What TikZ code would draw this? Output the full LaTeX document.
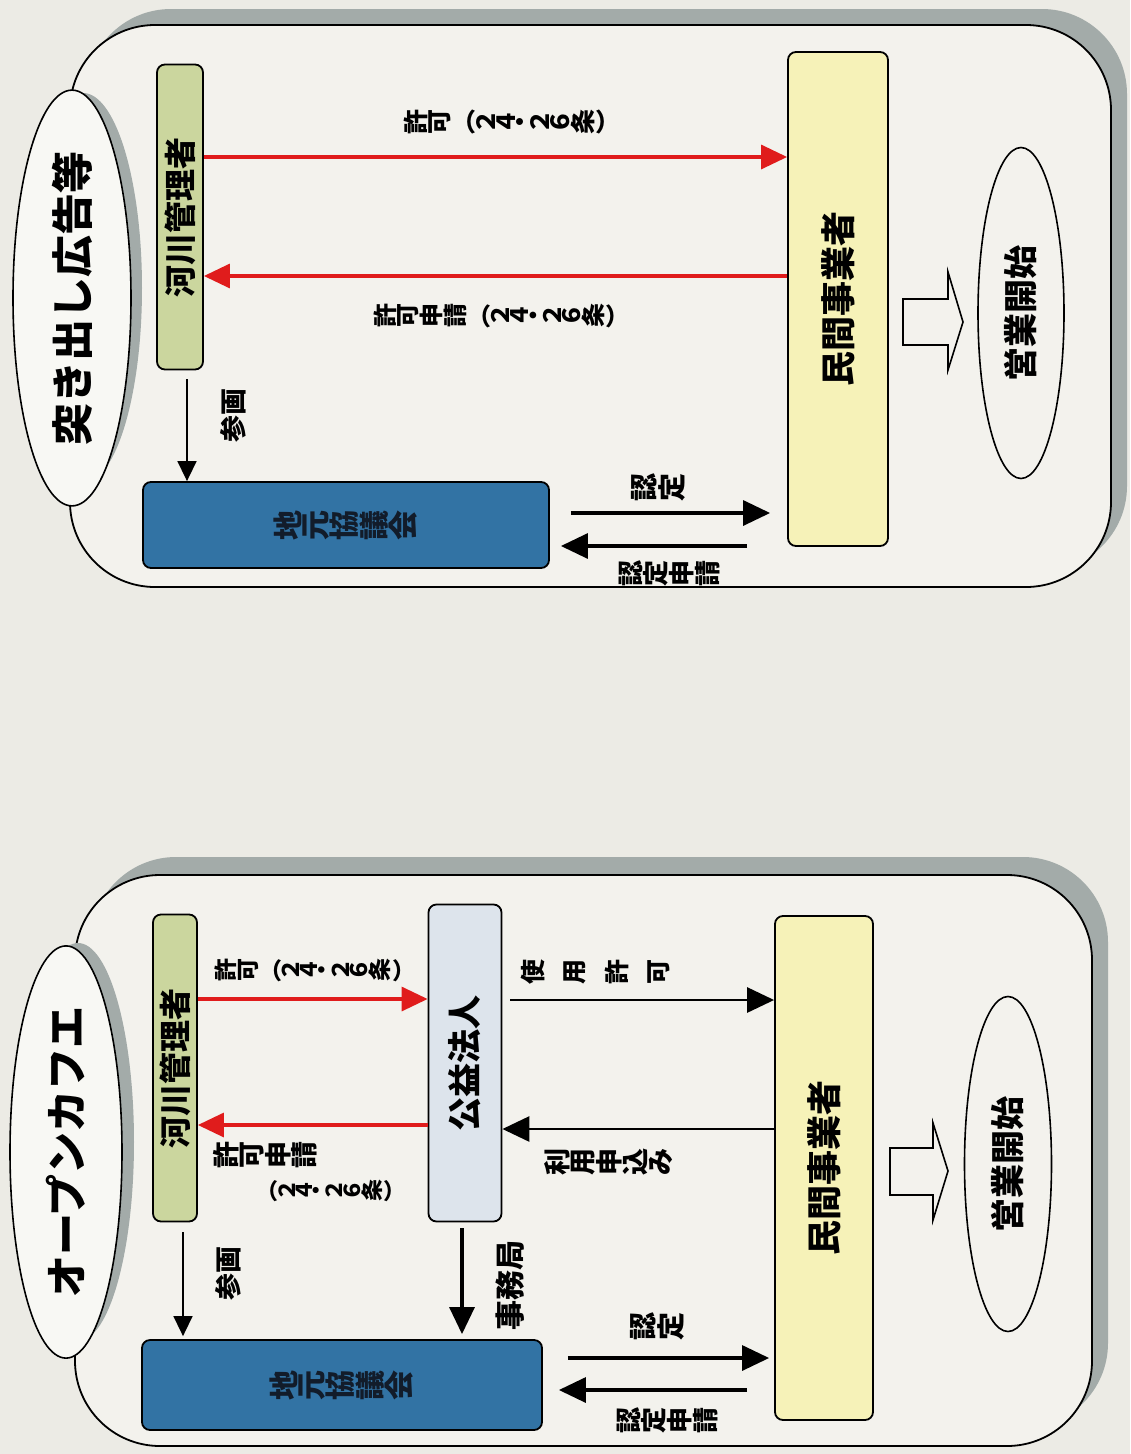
\documentclass[tikz,border=0pt]{standalone}
\usepackage{fontspec}
\usepackage{graphicx}
\setmainfont{Noto Sans CJK JP}
\usetikzlibrary{shapes.geometric,arrows.meta}
\makeatletter
\newcommand\vt[1]{\vt@loop#1\vt@nil}
\def\vt@nil{\vt@nil}
\def\vt@loop#1{\ifx#1\vt@nil\else\rotatebox{90}{#1}\kern1pt\expandafter\vt@loop\fi}
\makeatother
\newcommand\lp{\raisebox{.1em}{（}}
\newcommand\rp{\raisebox{.1em}{）}}
\newcommand\fs[1]{\bfseries\fontsize{#1}{#1}\selectfont}
\definecolor{bgc}{RGB}{236,235,229}
\definecolor{panelc}{RGB}{243,242,237}
\definecolor{shadowc}{RGB}{163,171,169}
\definecolor{ellc}{RGB}{248,248,244}
\definecolor{greenc}{RGB}{203,214,158}
\definecolor{bluec}{RGB}{50,115,164}
\definecolor{yellowc}{RGB}{246,242,184}
\definecolor{kgc}{RGB}{221,228,236}
\definecolor{redc}{RGB}{224,28,28}
\definecolor{navy}{RGB}{18,28,42}
\tikzset{
  panel/.style={draw=black,line width=1.8pt,fill=panelc,rounded corners=85pt},
  pshadow/.style={fill=shadowc,rounded corners=85pt},
  titleell/.style={ellipse,draw=black,line width=1.6pt,fill=ellc,inner sep=0pt,font=\fs{42}},
  goalell/.style={ellipse,draw=black,line width=1.6pt,fill=panelc,inner sep=0pt,font=\fs{34}},
  bx/.style={draw=black,line width=1.8pt,rounded corners=8pt,inner sep=0pt},
  redarr/.style={draw=redc,line width=3.2pt,-{Triangle[length=26pt,width=24pt]}},
  blkarr/.style={draw=black,line width=3.2pt,-{Triangle[length=27pt,width=25pt]}},
  thinarr/.style={draw=black,line width=1.5pt,-{Triangle[length=20pt,width=19pt]}},
  blockarr/.style={draw=black,line width=1.6pt,fill=panelc,line join=miter},
  lbl/.style={inner sep=0pt,text=black}
}
\begin{document}
\begin{tikzpicture}[x=1pt,y=-1pt]
\useasboundingbox (0,0) rectangle (1130,1454);
\fill[bgc] (0,0) rectangle (1130,1454);

% ================= top panel =================
\fill[pshadow] (86,9) rectangle (1127,571);
\draw[panel] (70,25) rectangle (1111,587);
\fill[shadowc] (83,288) ellipse [x radius=59, y radius=195];
\node[titleell,minimum width=118,minimum height=390] (t1) at (72,298) {\rotatebox{90}{突き出し広告等}};

\node[bx,fill=greenc,minimum width=46,minimum height=305,font=\fs{32}] (k1) at (180,217) {\rotatebox{90}{河川管理者}};
\node[bx,fill=bluec,minimum width=406,minimum height=86,font=\fs{30},text=navy] (c1) at (346,525) {\vt{地元協議会}};
\node[bx,fill=yellowc,minimum width=100,minimum height=494,font=\fs{35}] (m1) at (838,299) {\rotatebox{90}{民間事業者}};
\node[goalell,minimum width=86,minimum height=331] (e1) at (1021,313) {\rotatebox{90}{営業開始}};
\draw[blockarr] (903,299) -- (948,299) -- (948,272) -- (963,322) -- (948,370) -- (948,345) -- (903,345) -- cycle;

\draw[redarr] (k1.east |- 0,157) -- (m1.west |- 0,157);
\draw[redarr] (m1.west |- 0,276) -- (k1.east |- 0,276);
\draw[thinarr,shorten <=9pt] ([xshift=7pt]k1.south) -- ([xshift=7pt]k1.south |- c1.north);
\draw[blkarr,shorten <=21pt,shorten >=17pt] (c1.east |- 0,513) -- (m1.west |- 0,513);
\draw[blkarr,shorten <=40pt,shorten >=11pt] (m1.west |- 0,546) -- (c1.east |- 0,546);

\node[lbl,font=\fs{25}] (l1) at (512,122) {\vt{許可}\lp\vt{２４・２６条}\rp};
\node[lbl,font=\fs{24}] (l2) at (502,316) {\vt{許可申請}\lp\vt{２４・２６条}\rp};
\node[lbl,font=\fs{27},rotate=90] (l3) at (233,415) {参画};
\node[lbl,font=\fs{28}] (l4) at (659,487) {\vt{認定}};
\node[lbl,font=\fs{26}] (l5) at (670,573) {\vt{認定申請}};

% ================= bottom panel =================
\fill[pshadow] (91,857) rectangle (1108,1428);
\draw[panel] (75,875) rectangle (1092,1446);
\fill[shadowc] (78,1142) ellipse [x radius=56, y radius=199];
\node[titleell,minimum width=112,minimum height=398] (t2) at (66,1152) {\rotatebox{90}{オープンカフエ}};

\node[bx,fill=greenc,minimum width=44,minimum height=307,font=\fs{32}] (k2) at (175,1068) {\rotatebox{90}{河川管理者}};
\node[bx,fill=kgc,minimum width=73,minimum height=317,font=\fs{34}] (kh) at (465,1063) {\rotatebox{90}{公益法人}};
\node[bx,fill=bluec,minimum width=400,minimum height=90,font=\fs{30},text=navy] (c2) at (342,1385) {\vt{地元協議会}};
\node[bx,fill=yellowc,minimum width=98,minimum height=504,font=\fs{35}] (m2) at (824,1168) {\rotatebox{90}{民間事業者}};
\node[goalell,minimum width=87,minimum height=335] (e2) at (1008,1164) {\rotatebox{90}{営業開始}};
\draw[blockarr] (890,1148) -- (933,1148) -- (933,1123) -- (948,1171) -- (933,1220) -- (933,1195) -- (890,1195) -- cycle;

\draw[redarr] (k2.east |- 0,999) -- (kh.west |- 0,999);
\draw[redarr] (kh.west |- 0,1125) -- (k2.east |- 0,1125);
\draw[blkarr,line width=2.8pt,shorten <=8pt] (kh.east |- 0,1000) -- (m2.west |- 0,1000);
\draw[blkarr,line width=2.8pt] (m2.west |- 0,1129) -- (kh.east |- 0,1129);
\draw[thinarr,shorten <=10pt,shorten >=3pt] ([xshift=8pt]k2.south) -- ([xshift=8pt]k2.south |- c2.north);
\draw[blkarr,shorten <=6pt,shorten >=5pt] ([xshift=-3pt]kh.south) -- ([xshift=-3pt]kh.south |- c2.north);
\draw[blkarr,shorten <=25pt,shorten >=5pt] (c2.east |- 0,1358) -- (m2.west |- 0,1358);
\draw[blkarr,shorten <=27pt,shorten >=16pt] (m2.west |- 0,1390) -- (c2.east |- 0,1390);

\node[lbl,font=\fs{23}] (b1) at (315,970) {\vt{許可}\lp\vt{２４・２６条}\rp};
\node[lbl,font=\fs{27}] (b2) at (266,1155) {\vt{許可申請}};
\node[lbl,font=\fs{22}] (b3) at (331,1191) {\lp\vt{２４・２６条}\rp};
\node[lbl,font=\fs{25}] (b4) at (596,972) {\vt{使}\hspace{18pt}\vt{用}\hspace{18pt}\vt{許}\hspace{18pt}\vt{可}};
\node[lbl,font=\fs{27}] (b5) at (609,1162) {\vt{利用申込み}};
\node[lbl,font=\fs{27},rotate=90] (b6) at (228,1273) {参画};
\node[lbl,font=\fs{30},rotate=90] (b7) at (510,1285) {事務局};
\node[lbl,font=\fs{28}] (b8) at (658,1326) {\vt{認定}};
\node[lbl,font=\fs{26}] (b9) at (668,1420) {\vt{認定申請}};
\end{tikzpicture}
\end{document}
